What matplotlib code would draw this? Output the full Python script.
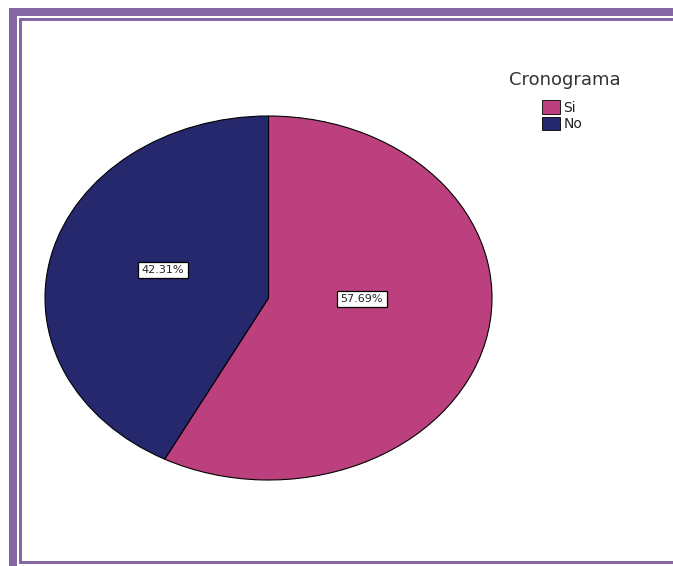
import matplotlib.pyplot as plt
from matplotlib.patches import Rectangle, Patch

# Cronograma: Si / No
categorias = ["Si", "No"]
porcentajes = [57.69, 42.31]
colores = ["#BC407D", "#26286E"]
marco = "#8467A4"

W, H = 673, 566
fig = plt.figure(figsize=(W / 100, H / 100), dpi=100)

# fondo con el marco morado (coordenadas en píxeles)
bg = fig.add_axes([0, 0, 1, 1], zorder=0)
bg.set_xlim(0, W)
bg.set_ylim(H, 0)
bg.axis("off")
for x, y, w, h in [(9, 8, 8, H - 8), (9, 8, W - 9, 8),
                   (19, 18, 3, 546), (19, 18, W - 19, 3),
                   (19, 561, W - 19, 3)]:
    bg.add_patch(Rectangle((x, y), w, h, facecolor=marco, edgecolor="none"))

# gráfico de sectores (elíptico)
ax = fig.add_axes([45 / W, (H - 480) / H, 447 / W, 364 / H], zorder=1)
wedges, _ = ax.pie(porcentajes, colors=colores, startangle=90, counterclock=False,
                   wedgeprops=dict(edgecolor="black", linewidth=0.8))
ax.set_aspect("auto")
ax.set_xlim(-1, 1)
ax.set_ylim(-1, 1)
ax.axis("off")

# etiquetas de porcentaje
pos_etiquetas = [(0.418, -0.005), (-0.472, 0.154)]
for (x, y), p in zip(pos_etiquetas, porcentajes):
    ax.text(x, y, f"{p:.2f}%", ha="center", va="center", fontsize=8,
            family="DejaVu Sans", color="#222222",
            bbox=dict(boxstyle="square,pad=0.3", facecolor="white",
                      edgecolor="black", linewidth=0.9))

# leyenda
fig.text(565 / W, 1 - 80 / H, "Cronograma", ha="center", va="center",
         fontsize=13, color="#333333", family="DejaVu Sans")
handles = [Patch(facecolor=c, edgecolor="black", linewidth=0.6) for c in colores]
leg = fig.legend(handles, categorias, loc="upper left",
                 bbox_to_anchor=(541 / W, 1 - 99 / H), frameon=False,
                 handlelength=1.3, handleheight=1.1, handletextpad=0.2,
                 labelspacing=0.15, borderpad=0.1, borderaxespad=0,
                 prop={"family": "DejaVu Sans", "size": 10})
for t in leg.get_texts():
    t.set_color("#222222")

fig.savefig("out.png", dpi=100)
